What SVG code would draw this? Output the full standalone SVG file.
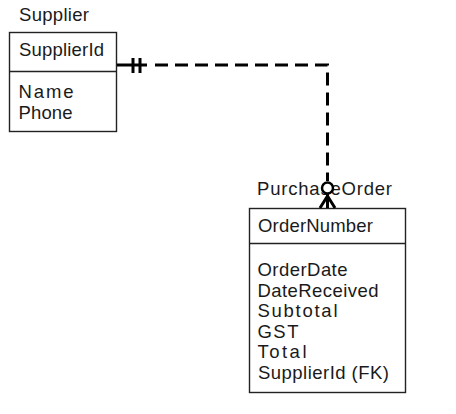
<svg xmlns="http://www.w3.org/2000/svg" width="456" height="414" viewBox="0 0 456 414">
<style>
.box{fill:#fff;stroke:#222;stroke-width:1.4}
.div{stroke:#222;stroke-width:1.4}
text{font-family:"Liberation Sans",Arial,sans-serif;font-size:18.5px;fill:#1a1a1a}
.rel{fill:none;stroke:#000;stroke-width:3}
.dash{stroke-dasharray:13 7}
</style>
<rect width="456" height="414" fill="#fff"/>
<g id="Supplier">
<text x="19" y="21" textLength="70" lengthAdjust="spacing">Supplier</text>
<rect class="box" x="9.5" y="32.5" width="107" height="99"/>
<line class="div" x1="9.5" y1="71.5" x2="116.5" y2="71.5"/>
<text x="19" y="56" textLength="85" lengthAdjust="spacing">SupplierId</text>
<text x="18.5" y="98" textLength="55" lengthAdjust="spacing">Name</text>
<text x="18.5" y="119" textLength="54" lengthAdjust="spacing">Phone</text>
</g>
<g id="PurchaseOrder">
<text x="257" y="195" textLength="135" lengthAdjust="spacing">PurchaseOrder</text>
<rect class="box" x="249.5" y="208.5" width="156" height="184"/>
<line class="div" x1="249.5" y1="243.5" x2="405.5" y2="243.5"/>
<text x="258" y="232" textLength="115" lengthAdjust="spacing">OrderNumber</text>
<text x="257.5" y="276" textLength="90" lengthAdjust="spacing">OrderDate</text>
<text x="257.5" y="296.5" textLength="121" lengthAdjust="spacing">DateReceived</text>
<text x="257.5" y="317" textLength="80" lengthAdjust="spacing">Subtotal</text>
<text x="257.5" y="337.5" textLength="41" lengthAdjust="spacing">GST</text>
<text x="257.5" y="358" textLength="49" lengthAdjust="spacing">Total</text>
<text x="258" y="378.5" textLength="131" lengthAdjust="spacing">SupplierId (FK)</text>
</g>
<g id="connectors">
<line class="rel" x1="117" y1="65" x2="147" y2="65"/>
<line class="rel" x1="133" y1="58" x2="133" y2="73"/>
<line class="rel" x1="140" y1="58" x2="140" y2="73"/>
<path class="rel dash" d="M155 65 H327.5 V181"/>
<circle cx="327.5" cy="188" r="5.5" fill="#fff" stroke="#000" stroke-width="2.5"/>
<line class="rel" x1="327.5" y1="193.5" x2="327.5" y2="208"/>
<path class="rel" d="M320 208 L327.5 196 L335 208" stroke-width="2.5"/>
</g>
</svg>
